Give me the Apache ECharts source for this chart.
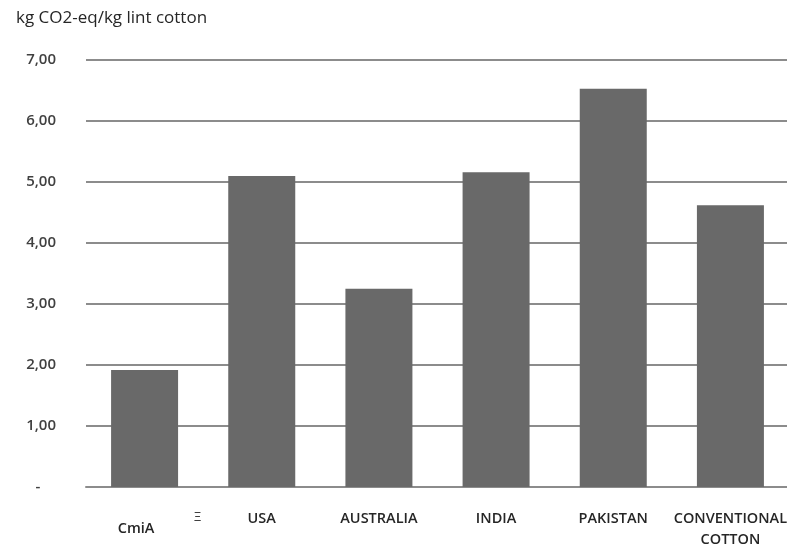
<!DOCTYPE html>
<html><head><meta charset="utf-8">
<script src="https://cdn.jsdelivr.net/npm/echarts@6/dist/echarts.min.js"></script>
<style>html,body{margin:0;padding:0;background:#fff}#c{width:787px;height:548px}</style>
</head><body><div id="c"></div>
<script>
const categories = ['CmiA', 'USA', 'AUSTRALIA', 'INDIA', 'PAKISTAN', 'CONVENTIONAL\nCOTTON'];
const values = [1.92, 5.10, 3.25, 5.16, 6.53, 4.62];
const yTitle = 'kg CO2-eq/kg lint cotton';
const FONT = '"Open Sans", Lato, sans-serif';

const chart = echarts.init(document.getElementById('c'), null, {renderer: 'canvas'});
chart.setOption({
  animation: false,
  backgroundColor: '#fff',
  grid: {left: 86, top: 60, width: 703, height: 427, containLabel: false, outerBoundsMode: 'none'},
  title: {
    text: yTitle, left: 11, top: 5,
    textStyle: {fontFamily: FONT, fontSize: 17, fontWeight: 'normal', color: '#262626'}
  },
  xAxis: {
    type: 'category', data: categories,
    axisLine: {show: true, lineStyle: {color: '#8c8c8c', width: 2}},
    axisTick: {show: false},
    axisLabel: {
      interval: 0, margin: 21, color: '#262626', fontFamily: FONT, fontSize: 14.5, fontWeight: 600,
      lineHeight: 21,
      formatter: function (v) { return v === 'CmiA' ? '{a|' + v + '}' : v; },
      rich: {a: {fontFamily: FONT, fontSize: 14.5, fontWeight: 600, color: '#262626', padding: [20, 17, 0, 0]}}
    }
  },
  yAxis: {
    type: 'value', min: 0, max: 7, interval: 1,
    axisLine: {show: false}, axisTick: {show: false},
    splitLine: {lineStyle: {color: '#8c8c8c', width: 2}},
    axisLabel: {
      margin: 30, color: '#404040', fontFamily: FONT, fontSize: 15, fontWeight: 600,
      formatter: function (v) { return v === 0 ? '-    ' : v.toFixed(2).replace('.', ','); }
    }
  },
  series: [{
    type: 'bar', data: values, barWidth: 67,
    itemStyle: {color: '#696969'}
  }],
  graphic: [{
    type: 'text', left: 194, top: 511,
    style: {text: 'Ξ', fontSize: 13, fontFamily: FONT, fill: '#404040'}
  }]
});
</script></body></html>
